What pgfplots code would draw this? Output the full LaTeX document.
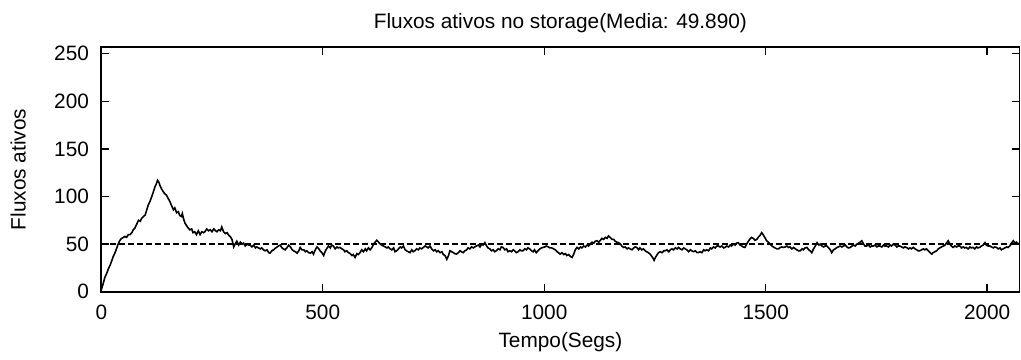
\documentclass[border=0pt]{standalone}
\usepackage{fontspec}
\setmainfont{Liberation Sans}
\usepackage{pgfplots}
\pgfplotsset{compat=1.18}
\newcommand{\chartfont}{\fontsize{10.4}{12}\selectfont}
\begin{document}
\begin{tikzpicture}
\useasboundingbox (-50.65pt,-33.65pt) rectangle (459.85pt,145.85pt);
\begin{axis}[
  at={(0pt,0pt)}, anchor=south west,
  scale only axis,
  width=459.1pt, height=122.35pt,
  xmin=0, xmax=2073, ymin=0, ymax=257,
  xtick={0,500,1000,1500,2000},
  ytick={0,50,100,150,200,250},
  tick align=inside,
  major tick length=4pt,
  axis line style={line width=0.9pt},
  every tick/.style={black, line width=0.7pt},
  /pgf/number format/assume math mode=true,
  /pgf/number format/1000 sep={},
  tick label style={font=\chartfont},
  xticklabel style={anchor=north, inner sep=0pt, yshift=-6.5pt},
  yticklabel style={anchor=east, inner sep=0pt, xshift=-6pt},
  xlabel={Tempo(Segs)},
  ylabel={Fluxos ativos},
  label style={font=\chartfont},
  xlabel style={at={(axis description cs:0.5,0)}, anchor=center, yshift=-25pt},
  ylabel style={at={(axis description cs:0,0.5)}, anchor=center, yshift=41.5pt},
  title={Fluxos ativos no storage(Media: 49.890)},
  title style={font=\chartfont, at={(axis description cs:0.5,1)}, anchor=center, yshift=6pt},
  clip=true,
]
\addplot[black, line width=0.8pt, dash pattern=on 3pt off 1.5pt] coordinates {(0,49.89) (2073,49.89)};
\addplot[black, line width=0.8pt] coordinates {
(0,2) (4,8) (8,15) (12,19) (16,24) (20,28) (24,33) (27,37) (31,41) (35,46) (38,50) (42,54) (46,56) (50,57) (53,58) (57,57) (61,60) (65,60) (69,62) (72,65) (76,67) (80,71) (84,75) (88,74) (91,77) (95,79) (99,80.5) (102,85) (106,91) (110,95) (114,100) (117,104) (121,110) (124,113) (127,117) (130,115) (132,112) (136,108) (140,105) (143,103) (147,101.5) (151,98) (155,94.5) (159,90) (163,86) (166,88) (170,83) (174,84) (177,80) (181,79) (183,82) (186,76) (189,72) (193,69) (196,67) (200,65) (204,66) (207,62) (211,63) (215,60) (219,64) (223,60) (227,63) (231,62) (234,63) (238,66) (242,64) (246,65) (250,63) (254,66) (258,64) (261,63) (265,65) (269,64) (272,68) (276,63) (280,61) (284,62) (288,59) (291,58) (295,55) (299,47) (302,50) (306,53) (310,49) (314,52) (318,50) (321,51) (325,48) (329,50) (333,49) (336,49) (340,47) (344,49) (348,46) (351,47) (355,46) (359,45) (362,46) (366,44) (370,43) (374,44) (378,41) (381,40.5) (385,43) (389,44) (393,45.7) (397,47) (400,48) (404,49) (408,46) (411,45) (415,44) (419,46) (423,49) (427,47) (431,44) (434,43) (438,42) (442,40.5) (446,43) (449,46.5) (453,44) (457,44) (461,42) (464,43) (468,41) (472,40.5) (476,42) (479,39.5) (483,44) (487,47) (491,45) (494,43) (498,41) (502,38) (506,43) (510,46) (513,48) (517,46) (520,49) (524,48) (528,45) (532,47) (535,46) (539,46.5) (543,45) (547,44) (550,42) (554,43) (558,41) (562,40) (566,38) (569,39) (573,36) (577,40) (580,39) (584,41) (588,44) (592,42) (596,45) (599,43) (603,46) (607,44) (611,46.5) (615,50) (618,52) (622,54) (626,52) (630,50) (633,49) (637,48) (641,47) (645,46) (648,47) (652,45) (656,44) (660,46) (663,42) (667,43) (671,45) (675,47) (678,46) (682,48) (686,44) (689,43) (693,42) (697,41) (701,44) (704,42) (708,43) (712,45) (716,44) (719,46) (723,45) (727,46.5) (731,48) (735,47) (738,46) (742,48) (746,45) (750,43) (754,44) (757,42) (761,43) (765,41) (769,42) (772,39) (776,38) (780,34) (784,38) (787,43) (791,42) (795,41) (798,40) (802,39.5) (806,41) (810,43) (813,42) (817,41) (821,43) (825,44) (828,46) (832,45) (836,47) (840,46) (843,47) (847,48) (851,49) (855,47) (859,50) (862,49) (866,51.5) (870,48) (873,46) (877,45) (881,43) (885,44) (888,42) (892,43) (896,45) (900,44) (903,47) (907,46.5) (911,44) (915,45) (918,42) (922,43) (926,42) (930,44) (933,43) (937,41) (941,42) (945,44) (948,43) (952,43) (956,45) (960,44) (963,46) (967,45) (971,43) (975,42) (978,44) (982,41) (986,43) (990,45) (994,46) (997,46.5) (1001,47) (1005,48) (1009,47) (1013,46) (1017,46) (1021,45) (1025,44) (1029,42) (1032,41) (1036,39.5) (1040,41) (1044,39) (1048,40) (1051,38) (1055,39) (1059,37) (1063,36) (1067,40) (1070,44) (1074,46.5) (1078,45) (1082,47) (1085,46) (1089,48) (1093,47) (1097,49) (1100,48) (1104,50) (1108,52) (1112,51) (1115,53) (1119,53.5) (1123,52) (1127,54) (1130,56) (1134,55) (1138,57) (1142,56) (1145,58.6) (1149,57) (1153,55) (1157,55) (1160,53) (1164,52) (1168,51.5) (1172,50) (1175,48) (1179,46.5) (1183,47) (1187,45) (1190,46) (1194,45) (1198,44) (1202,46) (1205,47) (1209,46.5) (1213,44) (1216,46) (1220,44) (1224,45) (1228,43) (1231,42) (1235,41) (1239,39.5) (1243,37) (1246,35) (1248,33) (1251,36) (1255,39) (1258,41) (1262,42) (1266,41) (1270,43) (1273,43) (1277,44) (1281,42) (1285,44) (1288,45) (1292,44) (1296,46) (1300,45) (1303,46.5) (1307,45) (1311,44) (1315,46) (1318,45) (1322,44) (1326,42) (1330,44) (1333,43) (1337,42) (1341,43) (1345,41) (1348,41) (1352,42) (1356,41) (1360,44) (1363,43) (1367,44) (1371,43) (1375,46) (1378,45) (1382,47) (1386,46) (1390,48) (1393,48) (1397,47) (1401,48) (1405,46) (1408,46.5) (1412,48) (1416,47) (1420,49) (1423,48) (1427,50) (1431,49) (1434,51) (1438,51.5) (1442,49) (1446,48) (1449,47) (1453,46.5) (1457,50) (1461,53) (1464,55) (1468,57) (1472,56) (1476,54) (1480,55) (1483,57) (1487,59) (1491,62) (1494,60) (1498,57) (1502,53.5) (1506,52) (1510,50) (1514,48) (1517,47) (1521,46) (1525,45) (1529,45) (1533,46.5) (1536,47) (1540,46.5) (1544,47) (1548,48) (1551,46.5) (1555,47) (1559,45) (1563,46.5) (1567,45) (1570,44) (1574,43) (1578,43) (1582,45) (1585,44) (1589,46) (1593,46.5) (1597,44) (1600,43) (1604,41) (1608,45) (1612,48) (1616,51.5) (1620,49) (1623,50) (1627,48) (1631,47) (1634,48) (1638,48) (1642,46) (1646,44) (1649,41) (1653,44) (1657,45) (1661,46.5) (1664,47) (1668,48) (1672,47) (1676,48) (1680,49) (1683,47) (1687,46) (1691,46.5) (1695,48) (1698,49) (1702,48) (1706,50) (1710,51) (1713,52) (1717,53.5) (1721,50) (1724,48) (1728,48) (1732,49) (1736,47) (1739,48) (1743,48) (1747,49) (1751,47) (1754,48) (1758,48) (1762,47) (1766,49) (1769,48) (1773,48) (1777,47) (1781,49) (1784,48) (1788,50) (1792,49) (1796,47) (1799,48) (1803,48) (1807,47) (1811,46) (1814,47) (1818,46.5) (1822,45) (1826,46) (1829,45) (1833,46.5) (1837,45) (1841,44) (1844,43) (1848,43) (1852,44) (1856,45) (1859,44) (1863,45) (1867,43) (1871,41) (1875,39.5) (1878,41) (1882,42) (1886,43) (1890,45) (1893,46) (1897,47) (1901,48) (1905,49) (1908,51) (1912,53.5) (1916,50) (1919,48) (1923,46.5) (1927,48) (1931,47) (1934,48) (1938,48) (1942,46) (1946,47) (1949,46) (1953,46.5) (1957,45) (1961,47) (1964,46) (1968,46.5) (1972,45) (1976,47) (1979,46) (1983,46.5) (1987,48) (1991,49) (1995,51.5) (1998,49) (2002,48) (2006,48) (2010,47) (2014,46) (2017,47) (2021,46.5) (2025,45) (2029,46) (2032,44) (2036,45) (2040,46) (2044,47) (2047,46.5) (2051,48) (2055,51) (2059,53.5) (2063,51) (2066,52) (2070,50) (2073,51)
};
\end{axis}
\end{tikzpicture}
\end{document}
